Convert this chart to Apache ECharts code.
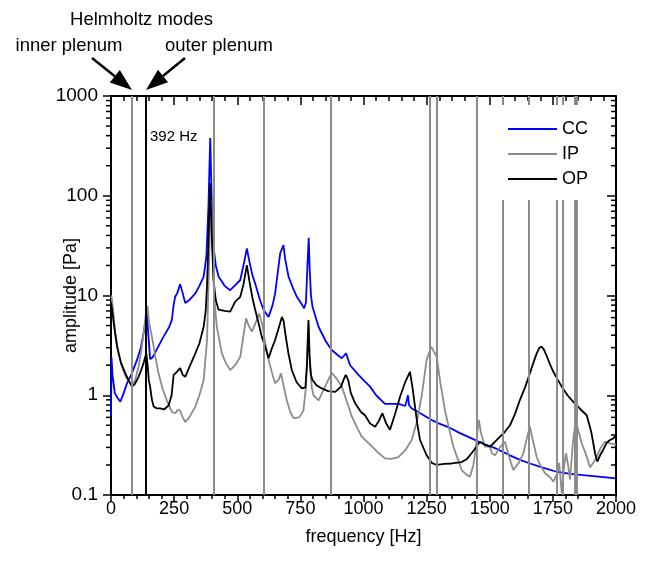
<!DOCTYPE html>
<html><head><meta charset="utf-8">
<script src="https://cdn.jsdelivr.net/npm/echarts@6/dist/echarts.min.js"></script>
<style>html,body{margin:0;padding:0;background:#fff}#c{width:646px;height:567px}</style>
</head><body><div id="c"></div>
<script>
// ---- data ----
const seriesNames = ['CC', 'IP', 'OP'];

const ccFreq = [0,2,6,15,25,37,50,65,80,103,118,129,142,148,155,165,185,208,230,241,248,254,262,274,282,294,310,334,350,367,378,386,390,393,396,400,406,415,426,450,472,492,512,528,538,548,560,571,590,604,624,640,650,670,683,690,703,720,736,755,765,772,778,783,787,792,798,822,850,874,900,914,931,947,980,1006,1026,1050,1085,1110,1140,1165,1172,1176,1180,1190,1230,1270,1300,1336,1380,1428,1470,1521,1580,1620,1659,1710,1765,1820,1870,1940,2000];
const ccAmp  = [0.62,2.4,1.6,1.05,0.95,0.86,1.05,1.35,1.6,2.26,3.0,4.2,6.6,4.0,2.3,2.4,3.0,3.87,4.8,5.7,8.0,9.7,10.5,13.0,11.0,8.4,9.0,10.5,12.5,15.5,25,80,200,380,180,70,31,20,15.5,12.5,11.3,12.7,14.3,22,29.7,22,16,13.2,9.0,7.2,6.1,8.0,10.5,26.5,32,23,15.5,12,9.7,8.2,7.45,8.5,20,38,18,10,7.7,4.86,3.5,2.84,2.5,2.35,2.63,2.0,1.6,1.37,1.22,1.0,0.82,0.82,0.82,0.78,0.9,1.0,0.8,0.74,0.65,0.565,0.52,0.48,0.42,0.37,0.33,0.295,0.25,0.225,0.207,0.188,0.171,0.163,0.158,0.152,0.147];

const ipFreq = [0,3,10,17,30,43,60,76,83,95,109,120,129,138,145,150,162,175,188,205,221,241,255,265,274,284,294,310,334,350,367,380,386,392,397,402,410,419,439,455,472,492,512,518,528,535,545,558,575,587,600,612,624,640,650,665,673,682,696,710,723,745,762,772,778,783,788,795,802,822,848,874,895,914,935,954,975,993,1026,1055,1085,1110,1138,1165,1191,1212,1231,1250,1268,1290,1305,1323,1340,1356,1389,1410,1422,1435,1442,1452,1457,1465,1481,1501,1508,1521,1540,1560,1575,1593,1615,1633,1648,1659,1670,1686,1700,1719,1740,1752,1765,1775,1785,1795,1802,1810,1818,1830,1841,1850,1864,1880,1897,1910,1923,1940,1956,1975,2000];
const ipAmp  = [10,9.5,6.5,4.2,2.6,1.93,1.5,1.32,1.25,1.4,1.93,2.8,4.2,6.5,7.8,5.5,3.87,2.5,1.66,1.15,0.89,0.68,0.66,0.72,0.7,0.6,0.54,0.6,0.77,1.0,1.42,3.5,12.2,50,90,30,9,4.86,2.63,2.1,1.79,2.0,2.43,3.07,4.5,5.9,5.0,4.34,5.5,6.6,5.0,3.2,2.26,1.6,1.32,1.45,1.66,1.3,0.89,0.68,0.59,0.6,0.7,1.2,3,5.25,2.0,1.2,1.0,0.89,1.22,1.68,1.45,1.22,0.85,0.61,0.47,0.384,0.32,0.27,0.233,0.23,0.24,0.28,0.356,0.55,1.0,2.26,3.07,2.43,1.3,0.7,0.45,0.305,0.178,0.158,0.153,0.2,0.262,0.45,0.565,0.42,0.305,0.305,0.262,0.25,0.3,0.342,0.25,0.178,0.21,0.262,0.38,0.484,0.36,0.24,0.2,0.165,0.15,0.136,0.16,0.21,0.105,0.2,0.262,0.2,0.143,0.35,0.565,0.45,0.33,0.26,0.19,0.21,0.24,0.3,0.342,0.33,0.32];

const opFreq = [0,5,12,24,40,57,70,83,95,109,120,129,135,140,145,150,155,162,169,180,195,210,228,240,248,260,274,284,294,310,334,350,367,375,380,386,390,393,396,400,406,415,426,450,472,492,512,525,538,548,560,571,585,597,612,624,636,650,665,677,684,690,703,716,735,756,770,776,782,786,792,798,815,835,860,888,911,922,930,940,950,967,990,1006,1026,1046,1060,1075,1090,1105,1125,1145,1165,1184,1194,1204,1214,1224,1250,1270,1290,1320,1349,1389,1410,1428,1445,1461,1480,1501,1520,1541,1560,1580,1600,1619,1640,1659,1675,1686,1697,1706,1715,1725,1740,1752,1768,1785,1808,1831,1860,1884,1895,1903,1910,1917,1926,1937,1949,1962,1976,1990,2000];
const opAmp  = [8.5,7.0,5.0,3.07,2.1,1.66,1.4,1.22,1.3,1.53,1.8,2.1,2.4,2.63,2.0,1.4,1.22,0.9,0.77,0.74,0.74,0.72,0.79,1.0,1.6,1.7,1.87,1.6,1.53,1.9,2.63,3.3,4.86,7,12.2,35,80,133,70,35,14.3,9,7.2,7.0,6.9,8.7,9.7,13,20.2,14,9.5,7.2,5.2,3.87,3.0,2.35,2.9,3.58,4.8,6.1,5.5,4.2,2.6,1.79,1.35,1.17,1.2,2.0,5.68,2.5,1.6,1.42,1.25,1.17,1.1,1.08,1.22,1.45,1.6,1.4,1.05,0.83,0.68,0.63,0.52,0.484,0.55,0.66,0.52,0.45,0.65,0.97,1.35,1.72,1.2,0.77,0.5,0.356,0.25,0.21,0.2,0.205,0.207,0.214,0.23,0.262,0.3,0.342,0.32,0.305,0.34,0.384,0.43,0.5,0.65,0.89,1.2,1.66,2.2,2.63,3.0,3.07,2.85,2.5,2.0,1.72,1.45,1.22,1.0,0.86,0.72,0.63,0.5,0.416,0.33,0.262,0.216,0.25,0.283,0.33,0.356,0.37,0.4];

// vertical lines (Helmholtz / mode markers)
const ipModes = [83,406,603,872,1263,1289,1448,1553,1656,1767,1789,1838,1844];
const opModes = [137];

// axis ticks
const xMin = 0, xMax = 2000, xStep = 250;
const yMin = 0.1, yMax = 1000;
const yMinorTicks = [0.2,0.3,0.4,0.5,0.6,0.7,0.8,0.9,2,3,4,5,6,7,8,9,20,30,40,50,60,70,80,90,200,300,400,500,600,700,800,900];

// ---- chart ----
const FONT = "'Liberation Sans', Arial, sans-serif";
const colors = { CC: '#0000ff', IP: '#8c8c8c', OP: '#000000' };
function zip(f, a) { return f.map((v, i) => [v, a[i]]); }

const chart = echarts.init(document.getElementById('c'), null, { renderer: 'canvas' });

const axisLineStyle = { show: true, onZero: false, lineStyle: { color: '#000', width: 2 } };
const tickStyle = { color: '#000', width: 1.5 };

function arrow(tail, tip, len, hw) {
  const dx = tip[0] - tail[0], dy = tip[1] - tail[1];
  const d = Math.hypot(dx, dy), ux = dx / d, uy = dy / d;
  const bx = tip[0] - ux * len, by = tip[1] - uy * len;
  return [
    { type: 'line', shape: { x1: tail[0], y1: tail[1], x2: bx, y2: by }, style: { stroke: '#000', lineWidth: 2.5 } },
    { type: 'polygon', shape: { points: [tip, [bx - uy * hw, by + ux * hw], [bx + uy * hw, by - ux * hw]] }, style: { fill: '#000' } }
  ];
}

function txt(t, x, y, size, align) {
  return { type: 'text', style: { text: t, x: x, y: y, font: size + 'px ' + FONT, fill: '#000', textAlign: align || 'center', textVerticalAlign: 'middle' } };
}

const baseGraphic = [
  txt('Helmholtz modes', 141.5, 20, 18.5),
  txt('inner plenum', 69, 46, 18.5),
  txt('outer plenum', 219, 46, 18.5),
  txt('392 Hz', 150, 137, 15, 'left'),
  ...arrow([92, 58], [132, 90], 22, 8),
  ...arrow([185, 58], [146, 90], 22, 8)
];

const option = {
  animation: false,
  backgroundColor: '#fff',
  grid: { left: 111, top: 96, width: 505, height: 399, containLabel: false },
  legend: {
    data: seriesNames, orient: 'vertical', left: 500, top: 105,
    padding: [15, 14, 12, 8], itemGap: 7, itemWidth: 49, itemHeight: 2, icon: 'rect',
    backgroundColor: '#fff', z: 20, selectedMode: false,
    textStyle: { fontSize: 18, color: '#000', fontFamily: FONT }
  },
  xAxis: [
    {
      type: 'value', position: 'bottom', min: xMin, max: xMax, interval: xStep,
      axisLine: axisLineStyle,
      axisTick: { show: true, inside: false, length: 7, lineStyle: tickStyle },
      minorTick: { show: true, splitNumber: 5, length: 4, lineStyle: tickStyle },
      axisLabel: { fontSize: 18, color: '#000', margin: 5, fontFamily: FONT, formatter: v => String(v) },
      splitLine: { show: false }, minorSplitLine: { show: false },
      name: 'frequency [Hz]', nameLocation: 'middle', nameGap: 33, nameMoveOverlap: false,
      nameTextStyle: { fontSize: 18, color: '#000', fontFamily: FONT }
    },
    {
      type: 'value', position: 'top', min: xMin, max: xMax, interval: xStep,
      axisLine: axisLineStyle,
      axisTick: { show: true, inside: true, length: 9, lineStyle: tickStyle },
      minorTick: { show: true, splitNumber: 5, length: 5, lineStyle: tickStyle },
      axisLabel: { show: false }, splitLine: { show: false }, minorSplitLine: { show: false }
    }
  ],
  yAxis: [
    {
      type: 'log', logBase: 10, min: yMin, max: yMax, position: 'left',
      axisLine: axisLineStyle,
      axisTick: { show: true, inside: false, length: 8, lineStyle: tickStyle },
      axisLabel: { fontSize: 19, color: '#000', margin: 13, fontFamily: FONT, formatter: v => String(+(+v).toPrecision(3)) },
      splitLine: { show: false },
      name: 'amplitude [Pa]', nameLocation: 'middle', nameGap: 31, nameRotate: 90, nameMoveOverlap: false,
      nameTextStyle: { fontSize: 18, color: '#000', fontFamily: FONT }
    },
    {
      type: 'log', logBase: 10, min: yMin, max: yMax, position: 'right',
      axisLine: axisLineStyle,
      axisTick: { show: true, inside: true, length: 9, lineStyle: tickStyle },
      axisLabel: { show: false }, splitLine: { show: false }
    }
  ],
  series: [
    {
      name: 'CC', type: 'line', xAxisIndex: 0, yAxisIndex: 0, symbol: 'none', color: colors.CC,
      lineStyle: { color: colors.CC, width: 1.8 }, data: zip(ccFreq, ccAmp), emphasis: { disabled: true }
    },
    {
      name: 'IP', type: 'line', xAxisIndex: 0, yAxisIndex: 0, symbol: 'none', color: colors.IP,
      lineStyle: { color: colors.IP, width: 1.8 }, data: zip(ipFreq, ipAmp), emphasis: { disabled: true },
      markLine: { silent: true, symbol: ['none', 'none'], label: { show: false },
        lineStyle: { color: colors.IP, width: 2, type: 'solid' }, emphasis: { disabled: true },
        data: ipModes.map(v => ({ xAxis: v })) }
    },
    {
      name: 'OP', type: 'line', xAxisIndex: 0, yAxisIndex: 0, symbol: 'none', color: colors.OP,
      lineStyle: { color: colors.OP, width: 1.8 }, data: zip(opFreq, opAmp), emphasis: { disabled: true },
      markLine: { silent: true, symbol: ['none', 'none'], label: { show: false },
        lineStyle: { color: colors.OP, width: 2, type: 'solid' }, emphasis: { disabled: true },
        data: opModes.map(v => ({ xAxis: v })) }
    }
  ],
  graphic: baseGraphic
};
chart.setOption(option);

// log minor ticks (2..9 per decade), positioned through the chart's own y scale
const xL = chart.convertToPixel({ xAxisIndex: 0 }, xMin);
const xR = chart.convertToPixel({ xAxisIndex: 0 }, xMax);
const minorGraphic = [];
yMinorTicks.forEach(v => {
  const y = chart.convertToPixel({ yAxisIndex: 0 }, v);
  minorGraphic.push({ type: 'line', silent: true, shape: { x1: xL - 5, y1: y, x2: xL, y2: y }, style: { stroke: '#000', lineWidth: 1.5 } });
  minorGraphic.push({ type: 'line', silent: true, shape: { x1: xR - 5, y1: y, x2: xR, y2: y }, style: { stroke: '#000', lineWidth: 1.5 } });
});
chart.setOption({ graphic: baseGraphic.concat(minorGraphic) });
</script>
</body></html>
